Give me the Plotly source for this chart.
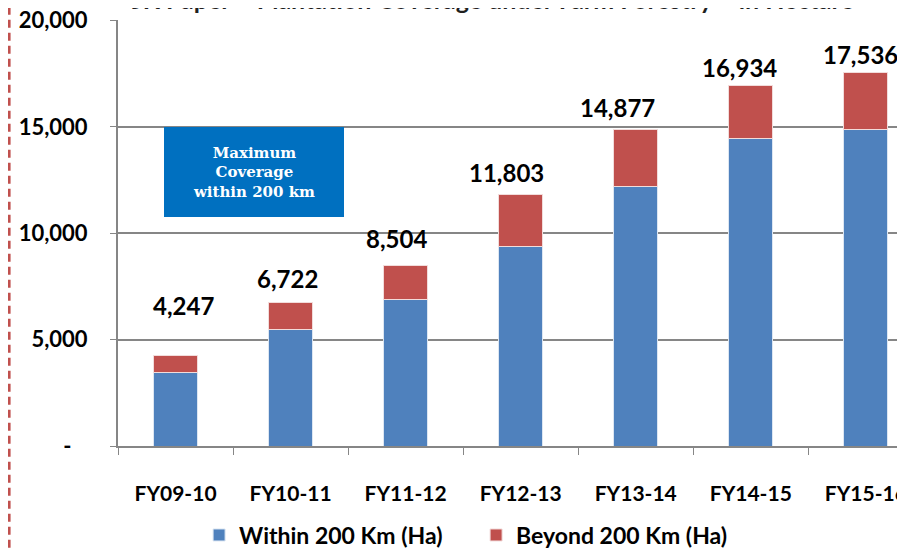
import plotly.graph_objects as go

years = ["FY09-10", "FY10-11", "FY11-12", "FY12-13", "FY13-14", "FY14-15", "FY15-16"]
within_200 = [3435, 5460, 6870, 9370, 12210, 14450, 14870]
beyond_200 = [812, 1262, 1634, 2433, 2667, 2484, 2666]
totals = [4247, 6722, 8504, 11803, 14877, 16934, 17536]
y_ticks = [0, 5000, 10000, 15000, 20000]
y_tick_text = ["-&nbsp;&nbsp;&nbsp;", "5,000", "10,000", "15,000", "20,000"]

BLUE = "#4F81BD"
RED = "#C0504D"
FONT = "Lato"

fig = go.Figure()
fig.add_trace(go.Bar(x=years, y=within_200, name="Within 200 Km (Ha)",
                     marker=dict(color=BLUE, line=dict(color="#DCE6F2", width=1)),
                     width=0.38))
fig.add_trace(go.Bar(x=years, y=beyond_200, name="Beyond 200 Km (Ha)",
                     marker=dict(color=RED, line=dict(color="#F2DCDB", width=1)),
                     width=0.38))

# total labels above each stack (pixel nudges, as placed in the original)
label_dx = [8, -3, -9, -14, -18, -11, -5]
label_dy = [50, 24, 27, 22, 22, 18, 18]
for yr, tot, dx, dy in zip(years, totals, label_dx, label_dy):
    fig.add_annotation(x=yr, y=tot, text=f"{tot:,}", showarrow=False,
                       xshift=dx, yshift=dy,
                       font=dict(family=FONT, size=24, color="black", weight="bold"))

# title, cut off by the top of the picture
fig.add_annotation(xref="paper", yref="paper", x=0.472, y=1.049, yanchor="middle",
                   text="JK Paper \u2013 Plantation Coverage under Farm Forestry \u2013 in Hectare",
                   showarrow=False,
                   font=dict(family=FONT, size=25, color="#1F1F1F", weight="bold"))

# callout box
fig.add_annotation(xref="paper", yref="paper", x=0.171, y=0.643,
                   xanchor="center", yanchor="middle",
                   text="Maximum<br>Coverage<br>within 200 km", showarrow=False,
                   bgcolor="#0070C0", bordercolor="#0070C0", borderpad=10,
                   width=158, height=68, align="center",
                   font=dict(family="DejaVu Serif", size=15, color="white", weight="bold"))

# dashed red line at left edge
fig.add_shape(type="line", xref="paper", yref="paper", x0=-0.137, x1=-0.137,
              y0=-0.3, y1=1.05, line=dict(color=RED, width=3, dash="8px,5px"))

fig.update_layout(
    barmode="stack",
    width=905, height=549,
    margin=dict(l=110, r=0, t=12, b=111),
    plot_bgcolor="white",
    paper_bgcolor="white",
    font=dict(family=FONT, color="black"),
    legend=dict(orientation="h", x=0.102, xanchor="left", y=-0.209, yanchor="middle",
                font=dict(family=FONT, size=23, color="black", weight="bold"),
                traceorder="normal", itemwidth=30, entrywidth=232),
    xaxis=dict(range=[-0.5, 6.41], tickson="boundaries", ticks="outside", ticklen=7,
               tickcolor="#868686", showline=True, linecolor="#868686", linewidth=2,
               ticklabelstandoff=28, automargin=False,
               tickfont=dict(family=FONT, size=21, color="black", weight="bold")),
    yaxis=dict(range=[0, 20020], tickvals=y_ticks, ticktext=y_tick_text,
               showgrid=True, gridcolor="#868686", gridwidth=1.5,
               showline=True, linecolor="#868686", linewidth=2,
               ticks="outside", ticklen=6, tickcolor="#868686",
               ticklabelstandoff=18, automargin=False, zeroline=False,
               ticklabeloverflow="allow",
               tickfont=dict(family=FONT, size=22, color="black", weight="bold")),
)

fig.write_html("out.html")
